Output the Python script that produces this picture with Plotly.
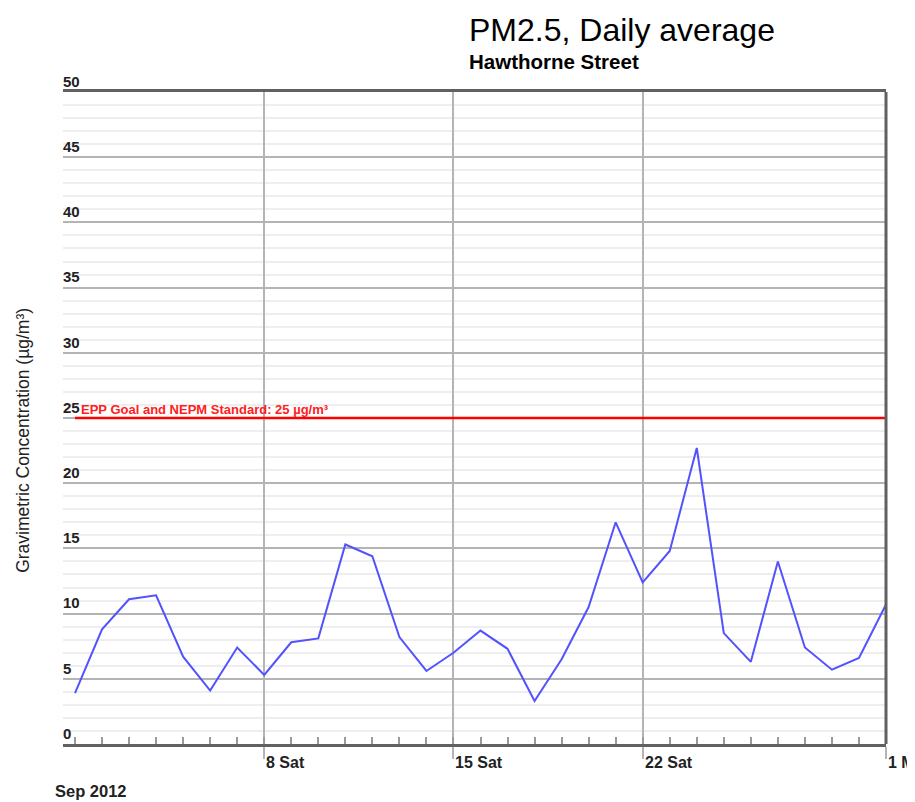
import pandas as pd
import plotly.graph_objects as go

# daily PM2.5 averages, 1 Sep 2012 .. 1 Oct 2012
days = pd.date_range('2012-09-01', '2012-10-01', freq='D')
pm25 = [3.9, 8.8, 11.1, 11.4, 6.7, 4.1, 7.4, 5.3, 7.8, 8.1,
        15.3, 14.4, 8.2, 5.6, 7.0, 8.7, 7.3, 3.3, 6.5, 10.5,
        17.0, 12.4, 14.8, 22.7, 8.5, 6.3, 14.0, 7.4, 5.7, 6.6,
        10.7]

week_ticks = ['2012-09-08', '2012-09-15', '2012-09-22', '2012-10-01']
week_labels = ['8 Sat', '15 Sat', '22 Sat', '1 Mon']
standard = 25
standard_label = 'EPP Goal and NEPM Standard: 25 µg/m³'

line_color = '#5252ff'
grid_major = '#b4b4b4'
grid_minor = '#eeeeee'
frame_color = '#616161'
font = 'Liberation Sans, Arial, sans-serif'

fig = go.Figure()
fig.add_trace(go.Scatter(x=days, y=pm25, mode='lines',
                         line=dict(color=line_color, width=2), showlegend=False))

# standard line
fig.add_shape(type='line', xref='x', yref='y', x0=days[0], x1=days[-1],
              y0=standard, y1=standard, line=dict(color='#ff0000', width=2.5))
fig.add_annotation(x=days[0], y=standard, xref='x', yref='y', text=standard_label,
                   showarrow=False, xanchor='left', yanchor='bottom', xshift=4, yshift=-1,
                   font=dict(family=font, size=13, color='#ff2020', weight='bold'))

# right border
fig.add_shape(type='line', xref='paper', yref='paper', x0=1, x1=1, y0=0, y1=1,
              line=dict(color=frame_color, width=3))

# week labels under the axis, left-aligned on the gridline
for d, lab in zip(week_ticks, week_labels):
    fig.add_annotation(x=d, y=-0.029, xref='x', yref='paper', text=lab, showarrow=False,
                       xanchor='left', yanchor='middle', xshift=0,
                       font=dict(family=font, size=16, color='#222222', weight='bold'))

fig.add_annotation(x=-0.012, y=-0.072, xref='paper', yref='paper', text='Sep 2012',
                   showarrow=False, xanchor='left', yanchor='middle',
                   font=dict(family=font, size=16.5, color='#222222', weight='bold'))

fig.add_annotation(x=-0.0486, y=0.465, xref='paper', yref='paper',
                   text='Gravimetric Concentration (µg/m³)', textangle=-90,
                   showarrow=False, xanchor='center', yanchor='middle',
                   font=dict(family=font, size=17.5, color='#222222'))

fig.add_annotation(x=0.491, y=1.095, xref='paper', yref='paper', text='PM2.5, Daily average',
                   showarrow=False, xanchor='left', yanchor='middle',
                   font=dict(family=font, size=32, color='#000000'))
fig.add_annotation(x=0.491, y=1.0475, xref='paper', yref='paper', text='Hawthorne Street',
                   showarrow=False, xanchor='left', yanchor='middle',
                   font=dict(family=font, size=20.5, color='#000000', weight='bold'))

fig.update_xaxes(
    range=['2012-08-31 13:21', '2012-10-01'],
    tickmode='array', tickvals=week_ticks, showticklabels=False,
    ticks='outside', ticklen=12, tickwidth=2, tickcolor=grid_major,
    showgrid=True, gridcolor=grid_major, gridwidth=2,
    showline=True, linecolor=frame_color, linewidth=2.5, mirror=True,
    minor=dict(tickmode='linear', tick0='2012-09-01', dtick=86400000,
               ticks='inside', ticklen=7, tickwidth=1.5, tickcolor='#9a9a9a',
               showgrid=False),
    zeroline=False,
)
fig.update_yaxes(
    range=[0, 50], tickmode='linear', tick0=0, dtick=5,
    ticks='', ticklabelposition='inside top', ticklabeloverflow='allow',
    ticklabelstandoff=-3,
    tickfont=dict(family=font, size=15, color='#222222', weight='bold'),
    showgrid=True, gridcolor=grid_major, gridwidth=2,
    minor=dict(dtick=1, showgrid=True, gridcolor=grid_minor, gridwidth=2),
    showline=False, zeroline=False,
)

# the page body adds an 8px margin, so the figure is 8px smaller than the window
fig.update_layout(
    width=907, height=794,
    margin=dict(l=55, r=29, t=84, b=58),
    plot_bgcolor='white', paper_bgcolor='white',
    font=dict(family=font),
)
fig.write_html('out.html')
